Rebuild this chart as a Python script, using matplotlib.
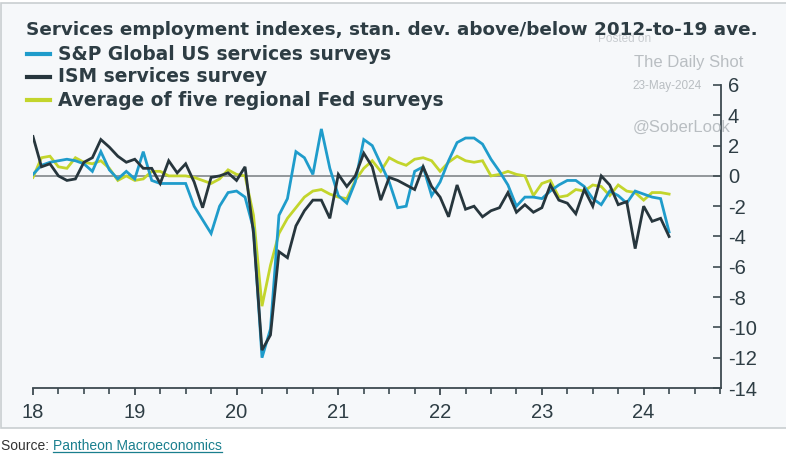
import matplotlib
matplotlib.use("Agg")
import matplotlib.pyplot as plt
from matplotlib.patches import Rectangle
from matplotlib.lines import Line2D
from matplotlib.ticker import MultipleLocator
import numpy as np

# Monthly data, Jan 2018 .. Apr 2024
start_year = 18
sp_global = [0.1, 0.7, 0.9, 1.0, 1.1, 1.0, 0.8, 0.3, 1.6, 0.4, -0.2, 0.3,
             -0.2, 1.6, -0.3, -0.5, -0.5, -0.5, -0.5, -2.0, -2.9, -3.8, -2.0, -1.1,
             -1.0, -1.4, -3.5, -12.0, -10.1, -2.6, -1.5, 1.6, 1.2, 0.1, 3.1, 0.5,
             -1.3, -1.8, -0.4, 2.4, 2.0, 0.8, -0.4, -2.1, -2.0, 0.3, 0.6, -1.3,
             -0.4, 1.0, 2.2, 2.5, 2.5, 2.1, 1.1, 0.3, -0.6, -2.0, -1.4, -1.4,
             -1.5, -1.0, -0.6, -0.3, -0.3, -0.7, -1.5, -1.9, -1.0, -1.3, -1.8, -1.0,
             -1.2, -1.4, -1.5, -3.7]
ism = [2.6, 0.6, 0.8, 0.0, -0.3, -0.2, 0.9, 1.2, 2.4, 1.9, 1.3, 0.9,
       1.1, 0.5, 0.5, -0.5, 1.0, 0.2, 0.8, -0.4, -2.1, -0.1, 0.0, 0.2,
       -0.3, 0.6, -3.8, -11.5, -10.5, -5.0, -5.4, -3.3, -2.3, -1.6, -1.6, -2.8,
       0.1, -0.7, 0.0, 1.5, 0.6, -1.6, -0.1, -0.3, -0.6, -0.9, 0.6, -0.7,
       -1.4, -2.7, -0.6, -2.2, -2.0, -2.7, -2.3, -2.1, -1.1, -2.4, -1.9, -2.4,
       -2.1, -0.6, -1.6, -1.8, -2.5, -0.9, -2.0, 0.0, -0.6, -1.9, -1.7, -4.8,
       -2.0, -3.0, -2.8, -4.0]
fed_avg = [-0.1, 1.2, 1.3, 0.6, 0.5, 1.2, 0.9, 0.8, 1.0, 0.5, -0.3, 0.0,
           -0.3, -0.2, 0.3, 0.3, 0.0, 0.0, 0.0, -0.1, -0.3, -0.5, -0.2, 0.4,
           0.1, 0.0, -2.6, -8.6, -5.9, -3.8, -2.8, -2.1, -1.4, -1.0, -0.9, -1.2,
           -1.4, -1.5, -0.3, 0.5, 1.0, 0.3, 1.2, 0.9, 0.7, 1.1, 1.2, 1.0,
           0.3, 0.9, 1.3, 1.0, 0.9, 1.0, 0.0, 0.1, 0.3, 0.1, 0.0, -1.3,
           -0.5, -0.3, -1.4, -1.3, -0.9, -1.0, -0.6, -0.7, -1.3, -0.6, -1.0, -1.1,
           -1.6, -1.1, -1.1, -1.2]
series_labels = ["S&P Global US services surveys", "ISM services survey",
                 "Average of five regional Fed surveys"]
year_labels = ["18", "19", "20", "21", "22", "23", "24"]
y_ticks = [6, 4, 2, 0, -2, -4, -6, -8, -10, -12, -14]

months = np.arange(len(ism))
x = start_year + months / 12.0

C_BLUE = "#1f9ccb"
C_DARK = "#27363d"
C_YEL = "#c3d52c"
C_TXT = "#2e3d44"
C_AX = "#3d4a50"

W, H = 786, 463
fig = plt.figure(figsize=(W / 100, H / 100), dpi=100)
fig.patch.set_facecolor("white")

# panel
panel = Rectangle((1 / W, 1 - 428 / H), 1.2, (428 - 3) / H, transform=fig.transFigure,
                  facecolor="#f6f8fa", edgecolor="#c9ced1", linewidth=1.2, zorder=-5)
fig.patches.append(panel)

ax = fig.add_axes([33 / W, 1 - 388 / H, (721 - 33) / W, (388 - 85) / H])
ax.set_zorder(2)
ax.set_facecolor("none")
ax.set_xlim(18, 24.76)
ax.set_ylim(-14, 6)

ax.axhline(0, color="#8a8f92", lw=1.3, zorder=1)
lw = 2.0
ax.plot(x, fed_avg, color=C_YEL, lw=lw, zorder=2, solid_joinstyle="miter")
ax.plot(x, sp_global, color=C_BLUE, lw=lw, zorder=3, solid_joinstyle="miter")
ax.plot(x, ism, color=C_DARK, lw=lw, zorder=4, solid_joinstyle="miter")

for s in ["left", "top"]:
    ax.spines[s].set_visible(False)
for s in ["right", "bottom"]:
    ax.spines[s].set_color(C_AX)
    ax.spines[s].set_linewidth(1.3)

ax.yaxis.tick_right()
ax.set_yticks(y_ticks)
ax.set_yticklabels([str(v) for v in y_ticks])
ax.tick_params(axis="y", direction="in", length=6, width=1.2, color=C_AX,
               labelsize=14.5, labelcolor=C_TXT, pad=5)
ax.set_xticks(np.arange(18, 25))
ax.set_xticklabels(year_labels)
ax.xaxis.set_minor_locator(MultipleLocator(0.25))
ax.tick_params(axis="x", which="major", direction="out", length=5, width=1.3,
               color=C_AX, labelsize=14.5, labelcolor=C_TXT, pad=6)
ax.tick_params(axis="x", which="minor", direction="out", length=4, width=1.2,
               color=C_AX)
for lab in ax.get_xticklabels() + ax.get_yticklabels():
    lab.set_family(["Liberation Sans", "DejaVu Sans"])

# title
title = fig.text(26 / W, 1 - 30 / H,
                 "Services employment indexes, stan. dev. above/below 2012-to-19 ave.",
                 fontsize=14, color=C_TXT, fontweight="semibold", va="center", ha="left",
                 family=["DejaVu Sans"], zorder=3)
fig.canvas.draw()
r = fig.canvas.get_renderer()
bb = title.get_window_extent(r)
title.set_fontsize(14 * (762 - 26) / bb.width)

# legend
leg_y = [54, 77, 100]
colors = [C_BLUE, C_DARK, C_YEL]
leg_texts = []
for yy, c, lab in zip(leg_y, colors, series_labels):
    fig.add_artist(Line2D([27 / W, 50 / W], [1 - yy / H, 1 - yy / H], color=c, lw=3,
                          transform=fig.transFigure))
    t = fig.text(58 / W, 1 - yy / H, lab, fontsize=13.5, color=C_TXT,
                 fontweight="semibold", va="center", ha="left", family=["DejaVu Sans"])
    leg_texts.append(t)
fig.canvas.draw()
bb = leg_texts[0].get_window_extent(r)
scale = (390 - 58) / bb.width
for tt in leg_texts:
    tt.set_fontsize(13.5 * scale)

# watermark
wm = "#b9bec2"
fig.text(598 / W, 1 - 39 / H, "Posted on", fontsize=8.5, color="#c8ccd0", va="center",
         family=["Liberation Sans"], zorder=1)
fig.text(634 / W, 1 - 62 / H, "The Daily Shot", fontsize=12, color=wm, va="center",
         family=["Liberation Sans"])
fig.text(632 / W, 1 - 86 / H, "23-May-2024", fontsize=8.5, color=wm, va="center",
         family=["Liberation Sans"])
fig.text(633 / W, 1 - 127 / H, "@SoberLook", fontsize=12, color=wm, va="center",
         family=["Liberation Sans"])

# source
fs = 10.0
src = fig.text(1 / W, 1 - 446 / H, "Source: ", fontsize=fs, color="#333333",
               va="center", ha="left", family=["Liberation Sans"])
fig.canvas.draw()
bb = src.get_window_extent(r)
link = fig.text(bb.x1 / W, 1 - 446 / H, "Pantheon Macroeconomics", fontsize=fs,
                color="#1a7f8e", va="center", ha="left", family=["Liberation Sans"])
fig.canvas.draw()
lb = link.get_window_extent(r)
k = (222 - 1) / (lb.x1 - bb.x0)
src.set_fontsize(fs * k)
fig.canvas.draw()
bb = src.get_window_extent(r)
link.set_x(bb.x1 / W)
link.set_fontsize(fs * k)
fig.canvas.draw()
lb = link.get_window_extent(r)
fig.add_artist(Line2D([lb.x0 / W, lb.x1 / W], [(lb.y0 + 1) / H, (lb.y0 + 1) / H],
                      color="#1a7f8e", lw=0.9, transform=fig.transFigure))

fig.savefig("out.png", dpi=100, facecolor="white")
